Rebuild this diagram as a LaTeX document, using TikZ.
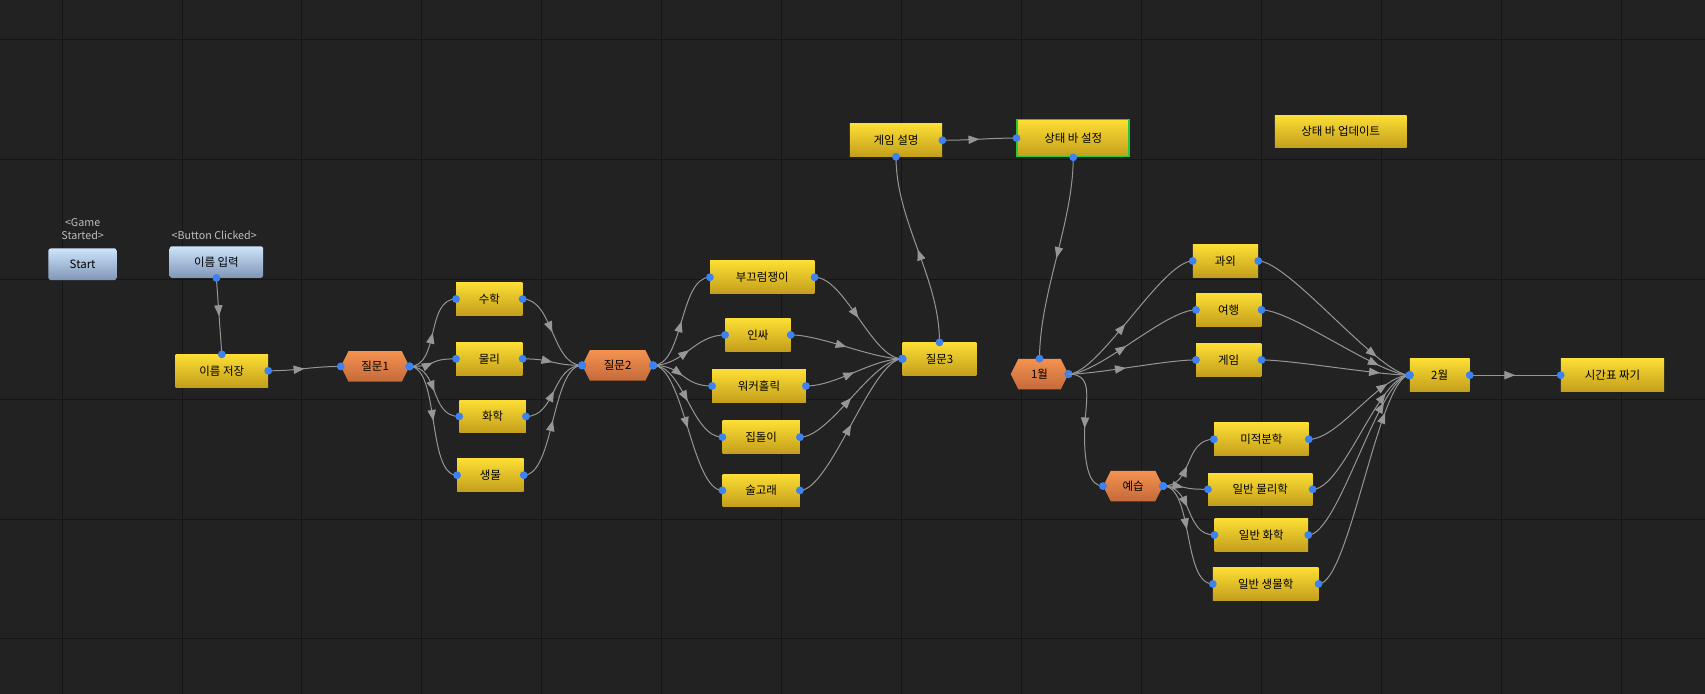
\documentclass[tikz,border=0pt]{standalone}
\usepackage{fontspec}
\setmainfont{Noto Sans CJK KR}
\usetikzlibrary{arrows.meta,decorations.markings}
\definecolor{bg}{HTML}{222222}
\definecolor{gridc}{HTML}{161616}
\definecolor{ytop}{RGB}{252,222,52}
\definecolor{ybot}{RGB}{196,158,28}
\definecolor{btop}{RGB}{205,228,252}
\definecolor{bbot}{RGB}{128,150,182}
\definecolor{otop}{RGB}{244,146,80}
\definecolor{obot}{RGB}{196,106,58}
\definecolor{portc}{RGB}{60,130,240}
\definecolor{wirec}{RGB}{150,150,150}
\definecolor{labc}{RGB}{190,190,190}
\tikzset{
 ybox/.style={rectangle,top color=ytop,bottom color=ybot,minimum height=1.5cm,inner sep=0pt,font=\fontsize{15}{17}\selectfont,text=black},
 bbox/.style={rectangle,rounded corners=3pt,top color=btop,bottom color=bbot,minimum height=1.45cm,inner sep=0pt,font=\fontsize{15}{17}\selectfont,text=black},
 hexlab/.style={inner sep=0pt,minimum height=1.4cm,font=\fontsize{15}{17}\selectfont,text=black},
 glab/.style={text=labc,font=\fontsize{14}{17}\selectfont,align=center},
 wire/.style={draw=wirec,line width=1.3pt,postaction={decorate},
   decoration={markings,mark=at position #1 with {\arrow[wirec]{Triangle[length=0.5cm,width=0.38cm]}}}},
 wire/.default=0.5
}
\newcommand\yb[5]{\node[ybox,minimum width=#4*0.05cm] (#1) at (#2,#3) {#5};}
\newcommand\hx[5]{%
 \shade[top color=otop,bottom color=obot] (#2-#4/2,#3) -- (#2-#4/2+7,#3-14) -- (#2+#4/2-7,#3-14) -- (#2+#4/2,#3) -- (#2+#4/2-7,#3+14) -- (#2-#4/2+7,#3+14) -- cycle;
 \node[hexlab,minimum width=#4*0.05cm] (#1) at (#2,#3) {#5};}
\newcommand\con[3][0.5]{\draw[wire=#1] (#2.east) .. controls +(28,0) and +(-28,0) .. (#3.west);
 \fill[portc] (#2.east) circle (0.18cm); \fill[portc] (#3.west) circle (0.18cm);}
\begin{document}
\begin{tikzpicture}[x=0.05cm,y=-0.05cm]
\fill[bg] (0,0) rectangle (1568,638);
\useasboundingbox (0,0) rectangle (1568,638);
\foreach \i in {0,...,13} \draw[gridc,line width=1pt] (57+110.3*\i,0) -- (57+110.3*\i,638);
\foreach \j in {0,...,5} \draw[gridc,line width=1pt] (0,36+110.3*\j) -- (1568,36+110.3*\j);
% blue nodes
\node[bbox,minimum width=63*0.05cm] (start) at (76,243) {Start};
\node[glab] (gs) at (76,211) {<Game\\Started>};
\node[bbox,minimum width=86*0.05cm] (ni) at (199,241) {이름 입력};
\node[glab] (bc) at (197,216) {<Button Clicked>};
% yellow nodes
\yb{ns}{204}{341}{85}{이름 저장}
\hx{q1}{345}{337}{63}{질문1}
\yb{m}{450}{275}{61}{수학}
\yb{p}{450}{330}{61}{물리}
\yb{c}{453}{383}{61}{화학}
\yb{b}{451}{437}{61}{생물}
\hx{q2}{568}{336}{65}{질문2}
\yb{t1}{701}{255}{96}{부끄럼쟁이}
\yb{t2}{697}{308}{60}{인싸}
\yb{t3}{698}{355}{86}{워커홀릭}
\yb{t4}{700}{402}{71}{집돌이}
\yb{t5}{700}{451}{71}{술고래}
\yb{q3}{864}{330}{68}{질문3}
\yb{gd}{824}{129}{85}{게임 설명}
\node[ybox,minimum width=103*0.05cm,minimum height=1.7cm,draw={rgb,255:red,40;green,200;blue,60},line width=2pt] (sb) at (987,127) {상태 바 설정};
\yb{su}{1233}{121}{121}{상태 바 업데이트}
\hx{j1}{956}{344}{53}{1월}
\yb{a1}{1127}{240}{60}{과외}
\yb{a2}{1130}{285}{60}{여행}
\yb{a3}{1130}{331}{60}{게임}
\hx{ys}{1042}{447}{55}{예습}
\yb{s1}{1160}{404}{87}{미적분학}
\yb{s2}{1159}{450}{96}{일반 물리학}
\yb{s3}{1160}{492}{86}{일반 화학}
\yb{s4}{1164}{537}{97}{일반 생물학}
\yb{f2}{1324}{345}{55}{2월}
\yb{tt}{1483}{345}{95}{시간표 짜기}
% connectors
\draw[wire] (ni.south) -- (ns.north);
\fill[portc] (ni.south) circle (0.18cm); \fill[portc] (ns.north) circle (0.18cm);
\con{ns}{q1}
\foreach \t in {m,p,c,b} {\con{q1}{\t}\con{\t}{q2}}
\foreach \t in {t1,t2,t3,t4,t5} {\con{q2}{\t}\con{\t}{q3}}
\draw[wire] (q3.north) .. controls +(0,-60) and +(0,60) .. (gd.south);
\fill[portc] (q3.north) circle (0.18cm); \fill[portc] (gd.south) circle (0.18cm);
\con{gd}{sb}
\draw[wire] (sb.south) .. controls +(0,60) and +(0,-60) .. (j1.north);
\fill[portc] (sb.south) circle (0.18cm); \fill[portc] (j1.north) circle (0.18cm);
\foreach \t in {a1,a2,a3} {\con[0.45]{j1}{\t}\con[0.8]{\t}{f2}}
\draw[wire=0.5] (j1.east) .. controls +(25,0) and +(0,-30) .. ([xshift=-0.85cm]ys.west |- 0,400) .. controls +(0,30) and +(-12,0) .. (ys.west);
\fill[portc] (ys.west) circle (0.18cm);
\foreach \t in {s1,s2,s3,s4} {\con[0.45]{ys}{\t}\con[0.8]{\t}{f2}}
\con{f2}{tt}
\end{tikzpicture}
\end{document}
